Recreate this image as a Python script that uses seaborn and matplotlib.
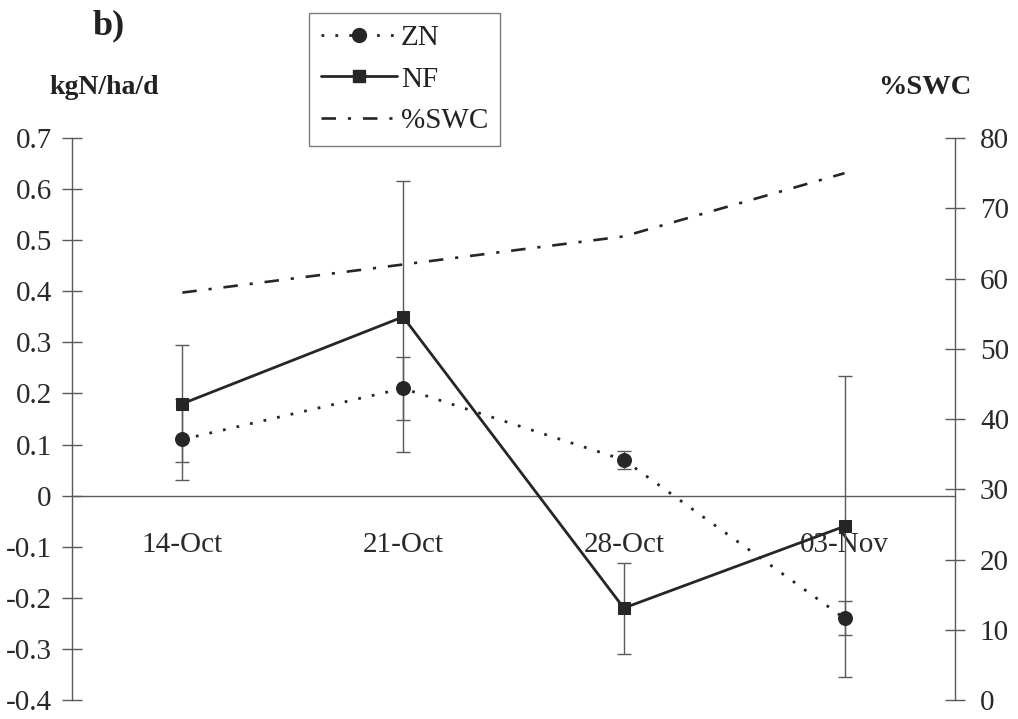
import matplotlib
matplotlib.use("Agg")
import matplotlib.pyplot as plt
import seaborn as sns
import pandas as pd
from matplotlib.lines import Line2D

# Sampling dates
dates = ["14-Oct", "21-Oct", "28-Oct", "03-Nov"]

# Net mineralisation rates (kgN/ha/d) and their error half-widths
zn_rate = [0.11, 0.21, 0.07, -0.24]
zn_err = [0.08, 0.062, 0.018, 0.033]
nf_rate = [0.18, 0.35, -0.22, -0.06]
nf_err = [0.115, 0.265, 0.089, 0.295]

# Soil water content (%)
swc = [58, 62, 66, 75]

sns.set_theme(style="white")
plt.rcParams["font.family"] = ["Liberation Serif", "DejaVu Serif"]
plt.rcParams["text.color"] = "#222222"

ink = "#262626"
grey = "#5a5a5a"
dotted = (0, (1, 4))
dashdot = (0, (5.5, 4.5, 1.2, 4.5))

fig = plt.figure(figsize=(10.18, 7.19), dpi=100)
ax = fig.add_axes([0.0707, 0.0264, 0.8673, 0.7816])
ax2 = ax.twinx()

pos = list(range(len(dates)))
df = pd.DataFrame({"pos": pos, "ZN": zn_rate, "NF": nf_rate, "SWC": swc})

# Error bars first so the markers sit on top
ax.errorbar(pos, nf_rate, yerr=nf_err, fmt="none", ecolor=grey,
            elinewidth=1.0, capsize=5, capthick=1.0, zorder=2)
ax.errorbar(pos, zn_rate, yerr=zn_err, fmt="none", ecolor=grey,
            elinewidth=1.0, capsize=5, capthick=1.0, zorder=2)

sns.lineplot(data=df, x="pos", y="ZN", ax=ax, color=ink, linewidth=2.0,
             linestyle=dotted, marker="o", markersize=10,
             markeredgecolor=ink, markerfacecolor=ink, zorder=3)
sns.lineplot(data=df, x="pos", y="NF", ax=ax, color=ink, linewidth=2.0,
             marker="s", markersize=9, markeredgecolor=ink,
             markerfacecolor=ink, zorder=4)
sns.lineplot(data=df, x="pos", y="SWC", ax=ax2, color=ink, linewidth=1.9,
             linestyle=dashdot, zorder=3)

ax.set_xlim(-0.5, 3.5)
ax.set_ylim(-0.4, 0.7)
ax2.set_ylim(0, 80)
ax.set_yticks([-0.4, -0.3, -0.2, -0.1, 0, 0.1, 0.2, 0.3, 0.4, 0.5, 0.6, 0.7])
ax.set_yticklabels(["-0.4", "-0.3", "-0.2", "-0.1", "0", "0.1", "0.2",
                    "0.3", "0.4", "0.5", "0.6", "0.7"])
ax2.set_yticks(range(0, 81, 10))
ax.set_xticks(pos)
ax.set_xticklabels(dates)
ax.set_xlabel("")
ax.set_ylabel("")
ax2.set_ylabel("")

for a in (ax, ax2):
    a.spines["top"].set_visible(False)
    for s in a.spines.values():
        s.set_color(grey)
        s.set_linewidth(1.0)
ax.spines["right"].set_visible(False)
ax2.spines["left"].set_visible(False)
ax2.spines["bottom"].set_visible(False)
ax.spines["bottom"].set_position(("data", 0))

ax.tick_params(axis="y", direction="inout", length=14, width=1.0,
               color=grey, labelsize=21, pad=7.5, labelcolor="#2a2a2a")
ax2.tick_params(axis="y", direction="inout", length=14, width=1.0,
                color=grey, labelsize=21, pad=11, labelcolor="#2a2a2a")
ax.tick_params(axis="x", length=0, labelsize=21, pad=26,
               labelcolor="#2a2a2a")
ax.patch.set_visible(False)

fig.text(0.107, 0.964, "b)", fontsize=26, fontweight="bold",
         ha="center", va="center")
fig.text(0.102, 0.878, "kgN/ha/d", fontsize=20, fontweight="bold",
         ha="center", va="center")
fig.text(0.908, 0.878, "%SWC", fontsize=20.5, fontweight="bold",
         ha="center", va="center")

handles = [
    Line2D([], [], color=ink, linewidth=2.0, linestyle=dotted,
           marker="o", markersize=10),
    Line2D([], [], color=ink, linewidth=2.0, marker="s", markersize=9),
    Line2D([], [], color=ink, linewidth=1.9, linestyle=dashdot),
]
leg = fig.legend(handles, ["ZN", "NF", "%SWC"], loc="upper left",
                 bbox_to_anchor=(309 / 1018, 1 - 13 / 719), fontsize=21,
                 frameon=True, fancybox=False, handlelength=2.6,
                 handletextpad=0.15, labelspacing=0.52, borderpad=0.4,
                 borderaxespad=0)
leg.get_frame().set_edgecolor(grey)
leg.get_frame().set_linewidth(1.0)

fig.savefig("out.png", dpi=100)
